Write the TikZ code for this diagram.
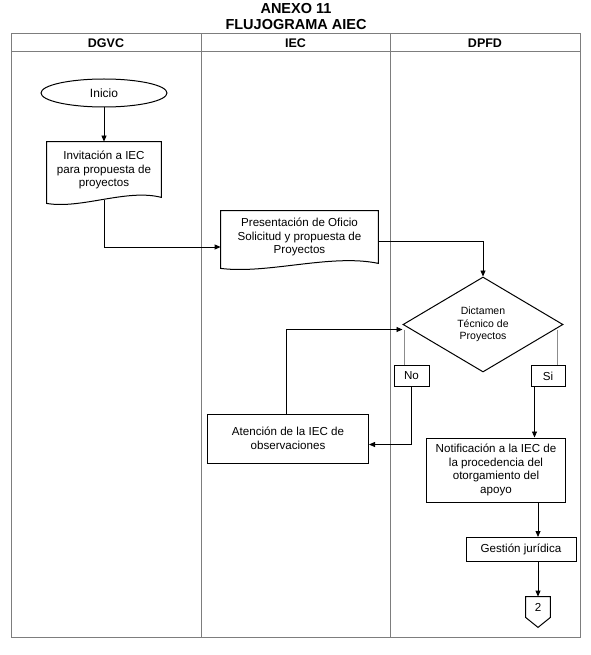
\documentclass[tikz,border=0pt]{standalone}
\usepackage{fontspec}
\setmainfont{Liberation Sans}
\usetikzlibrary{shapes.geometric,arrows.meta,calc}
\definecolor{tblgray}{RGB}{125,125,125}
\definecolor{lngray}{RGB}{140,140,140}
\newcommand{\drawdoc}[3]{%
  \draw[shapeline] (#1.north west) -- (#1.north east) -- ($(#1.south east)+(0,#3)$)
    .. controls ($(#1.south east)!0.3!(#1.south west)+(0,-10)$)
    and ($(#1.south east)!0.7!(#1.south west)+(0,11)$)
    .. ($(#1.south west)+(0,#2)$) -- cycle;}
\begin{document}
\begin{tikzpicture}[x=1pt,y=-1pt,
  line width=0.8pt,
  arr/.style={-{Triangle[length=6pt,width=5pt]}},
  shapeline/.style={line width=1pt},
  body/.style={font=\fontsize{11.6}{13.6}\selectfont, align=center, inner sep=0pt},
  boxnode/.style={body, draw, shapeline, rectangle},
  docnode/.style={body, rectangle},
  title/.style={font=\bfseries\fontsize{14.5}{16}\selectfont, inner sep=0pt},
  lanehead/.style={font=\bfseries\fontsize{12.5}{14}\selectfont, inner sep=0pt},
  tbl/.style={draw=tblgray, line width=1pt},
  thinline/.style={draw=lngray, line width=0.8pt}
]
\path[use as bounding box] (0,0) rectangle (590,655);

% titles
\node[title] (t1) at (296,8.5) {ANEXO 11};
\node[title] (t2) at (296,24.5) {FLUJOGRAMA AIEC};

% table
\draw[tbl] (11,34) rectangle (580,637);
\draw[tbl] (11,52) -- (580,52);
\draw[tbl] (201,34) -- (201,637);
\draw[tbl] (390,34) -- (390,637);
\node[lanehead] (h1) at (106,43) {DGVC};
\node[lanehead] (h2) at (295.5,43) {IEC};
\node[lanehead] (h3) at (485,43) {DPFD};

% nodes
\node[body, draw, shapeline, ellipse, minimum width=126pt, minimum height=28pt, font=\fontsize{12}{14}\selectfont] (ini) at (104,93) {Inicio};
\node[docnode, minimum width=114pt, minimum height=56pt] (inv) at (104,170) {Invitación a IEC\\para propuesta de\\proyectos};
\drawdoc{inv}{5}{-1}
\node[docnode, minimum width=157pt, minimum height=52pt] (pres) at (299.5,237) {Presentación de Oficio\\Solicitud y propuesta de\\Proyectos};
\drawdoc{pres}{5}{0}
\node[draw, shapeline, diamond, minimum width=160pt, minimum height=95pt, inner sep=0pt,
      font=\fontsize{10.5}{12.5}\selectfont, align=center] (dic) at (483,324.5) {Dictamen\\Técnico de\\Proyectos};
\node[boxnode, minimum width=35pt, minimum height=21pt] (no) at (411.5,375.5) {No};
\node[boxnode, minimum width=34pt, minimum height=21pt] (si) at (548,376) {Si};
\node[boxnode, minimum width=161pt, minimum height=49pt] (ate) at (288,438.5) {Atención de la IEC de\\observaciones};
\node[boxnode, minimum width=139pt, minimum height=64pt] (not) at (496,470) {Notificación a la IEC de\\la procedencia del\\otorgamiento del\\apoyo};
\node[boxnode, minimum width=110pt, minimum height=24pt] (ges) at (521,549.5) {Gestión jurídica};
\node[body, minimum width=24pt, minimum height=20pt] (off) at (538,607) {2};
\draw[shapeline] (off.north west) -- (off.north east) -- (off.south east) -- ($(off.south)+(0,10)$) -- (off.south west) -- cycle;

% connectors
\draw[arr] (ini.south) -- (inv.north);
\draw[arr] ($(inv.south)+(0,2)$) |- ($(pres.west)+(0,10)$);
\draw[arr] ($(pres.east)+(0,4)$) -| (dic.north);
\draw[thinline] ($(dic.west)+(2,5)$) -- ($(no.north west)+(11,0)$);
\draw[thinline] ($(dic.east)+(-6,5)$) -- ($(si.north east)+(-8,0)$);
\draw[arr] (no.south) |- ($(ate.east)+(0,6)$);
\draw[arr] ($(ate.north)+(-2,0)$) |- ($(dic.west)+(0,5)$);
\coordinate (sib) at ($(si.south west)+(4,0)$);
\draw[arr] (sib) -- (sib |- not.north);
\draw[arr] (not.south -| off) -- (ges.north -| off);
\draw[arr] (ges.south -| off) -- (off.north);
\end{tikzpicture}
\end{document}
